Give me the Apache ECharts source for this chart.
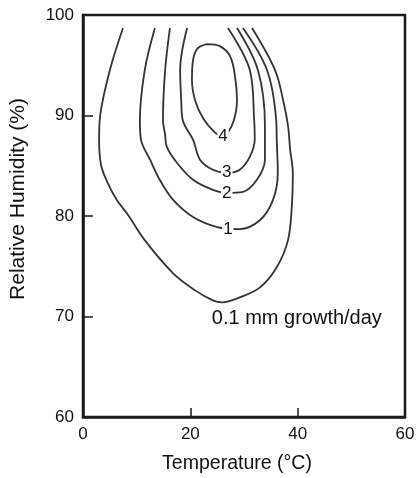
<!DOCTYPE html>
<html>
<head>
<meta charset="utf-8">
<script src="https://cdn.jsdelivr.net/npm/echarts@6/dist/echarts.min.js"></script>
<style>
html,body{margin:0;padding:0;background:#fff;}
#c{width:418px;height:478px;}
</style>
</head>
<body>
<div id="c"></div>
<script>
// Tick values
const xTicks = [0, 20, 40, 60];
const yTicks = [60, 70, 80, 90, 100];

// Contour lines: [temperature °C, relative humidity %]
const contour01 = [[7.45,98.7],[5.0,94.5],[3.2,90.0],[3.0,87.6],[3.35,85.1],[4.5,83.4],[6.3,81.6],[8.4,80.1],[11.5,77.6],[16.8,74.3],[20.9,72.6],[24.2,71.6],[25.9,71.4],[29.2,71.9],[33.0,72.9],[36.1,74.9],[38.2,77.6],[38.9,80.9],[39.1,84.3],[38.6,86.6],[38.2,89.0],[37.3,91.5],[35.8,94.5],[31.5,98.7]];
const contour1 = [[13.4,98.7],[11.5,94.5],[10.6,89.5],[10.8,87.6],[12.5,85.6],[14.3,83.6],[16.8,81.6],[20.5,79.9],[25.0,78.9],[29.2,78.7],[33.0,79.6],[35.4,81.6],[36.3,84.3],[36.1,87.6],[36.0,89.5],[34.3,94.5],[29.8,98.7]];
const contour2 = [[16.2,98.7],[15.3,94.5],[14.9,89.5],[15.3,88.1],[15.6,86.9],[17.5,85.3],[20.5,83.6],[24.2,82.6],[26.8,82.3],[29.8,82.4],[32.4,83.6],[33.9,85.6],[33.9,89.0],[32.6,94.5],[28.7,98.7]];
const contour3 = [[19.4,98.7],[18.1,94.5],[18.3,91.5],[18.6,89.5],[20.5,87.6],[21.8,85.6],[24.2,84.6],[26.8,84.3],[29.2,84.6],[31.1,85.9],[32.0,87.6],[31.9,89.5],[31.1,94.5],[27.0,98.7]];
const contour4 = [[23.1,97.1],[25.5,96.9],[27.4,95.9],[28.3,94.0],[28.7,91.5],[28.1,89.5],[27.0,88.3],[26.1,87.9],[24.6,88.3],[22.4,89.7],[20.9,91.5],[20.3,93.5],[20.5,95.5],[21.4,96.7],[23.1,97.1]];

// Contour labels: [T, RH, text]
const contourLabels = [[26.1,87.9,'4'],[26.8,84.3,'3'],[26.8,82.3,'2'],[27.0,78.7,'1']];
const unitLabel = [24.0, 69.85, '0.1 mm growth/day'];

const xTitle = 'Temperature (°C)';
const yTitle = 'Relative Humidity (%)';

const chart = echarts.init(document.getElementById('c'), null, {renderer:'canvas'});
const FONT = 'Liberation Sans, Arial, Helvetica, sans-serif';
const lineColor = '#333';
const textColor = '#111';

function contourSeries(data){
  return {type:'line', data:data, smooth:0.35, showSymbol:false, symbol:'none',
    lineStyle:{color:lineColor, width:1.8}, z:2, silent:true};
}

chart.setOption({
  animation:false,
  backgroundColor:'#fff',
  grid:{left:83, right:13, top:15, bottom:61, show:true, borderColor:'#1a1a1a', borderWidth:2.5, backgroundColor:'transparent'},
  xAxis:{type:'value', min:xTicks[0], max:xTicks[xTicks.length-1], interval:20,
    axisLine:{show:true, lineStyle:{color:'#1a1a1a', width:2.5}},
    axisTick:{show:true, inside:true, length:9, lineStyle:{color:'#1a1a1a', width:1.5}},
    axisLabel:{margin:9, color:textColor, fontSize:17, fontFamily:FONT},
    splitLine:{show:false}},
  yAxis:{type:'value', min:yTicks[0], max:yTicks[yTicks.length-1], interval:10,
    axisLine:{show:true, lineStyle:{color:'#1a1a1a', width:2.5}},
    axisTick:{show:true, inside:true, length:10, lineStyle:{color:'#1a1a1a', width:1.5}},
    axisLabel:{margin:9, color:textColor, fontSize:17, fontFamily:FONT, verticalAlign:'middle', padding:[6,0,0,0]},
    splitLine:{show:false}},
  graphic:[
    {type:'text', style:{text:xTitle, font:'19.5px '+FONT, fill:textColor, textAlign:'center', textVerticalAlign:'middle'}, position:[237,464]},
    {type:'text', style:{text:yTitle, font:'21px '+FONT, fill:textColor, textAlign:'center', textVerticalAlign:'middle'}, position:[18,199], rotation:Math.PI/2}
  ],
  series:[
    contourSeries(contour01),
    contourSeries(contour1),
    contourSeries(contour2),
    contourSeries(contour3),
    contourSeries(contour4),
    {type:'scatter', symbolSize:0, z:5, silent:true, itemStyle:{opacity:1},
      data:contourLabels.map(d=>({value:[d[0],d[1]], name:d[2]})),
      label:{show:true, position:'inside', formatter:p=>p.name, color:textColor, opacity:1, fontSize:17, fontFamily:FONT,
        backgroundColor:'#fff', padding:[0,1]}},
    {type:'scatter', symbolSize:0, z:5, silent:true, itemStyle:{opacity:1},
      data:[{value:[unitLabel[0],unitLabel[1]], name:unitLabel[2]}],
      label:{show:true, position:'right', distance:0, formatter:p=>p.name, color:textColor, opacity:1, fontSize:20, fontFamily:FONT}}
  ]
});
</script>
</body>
</html>
